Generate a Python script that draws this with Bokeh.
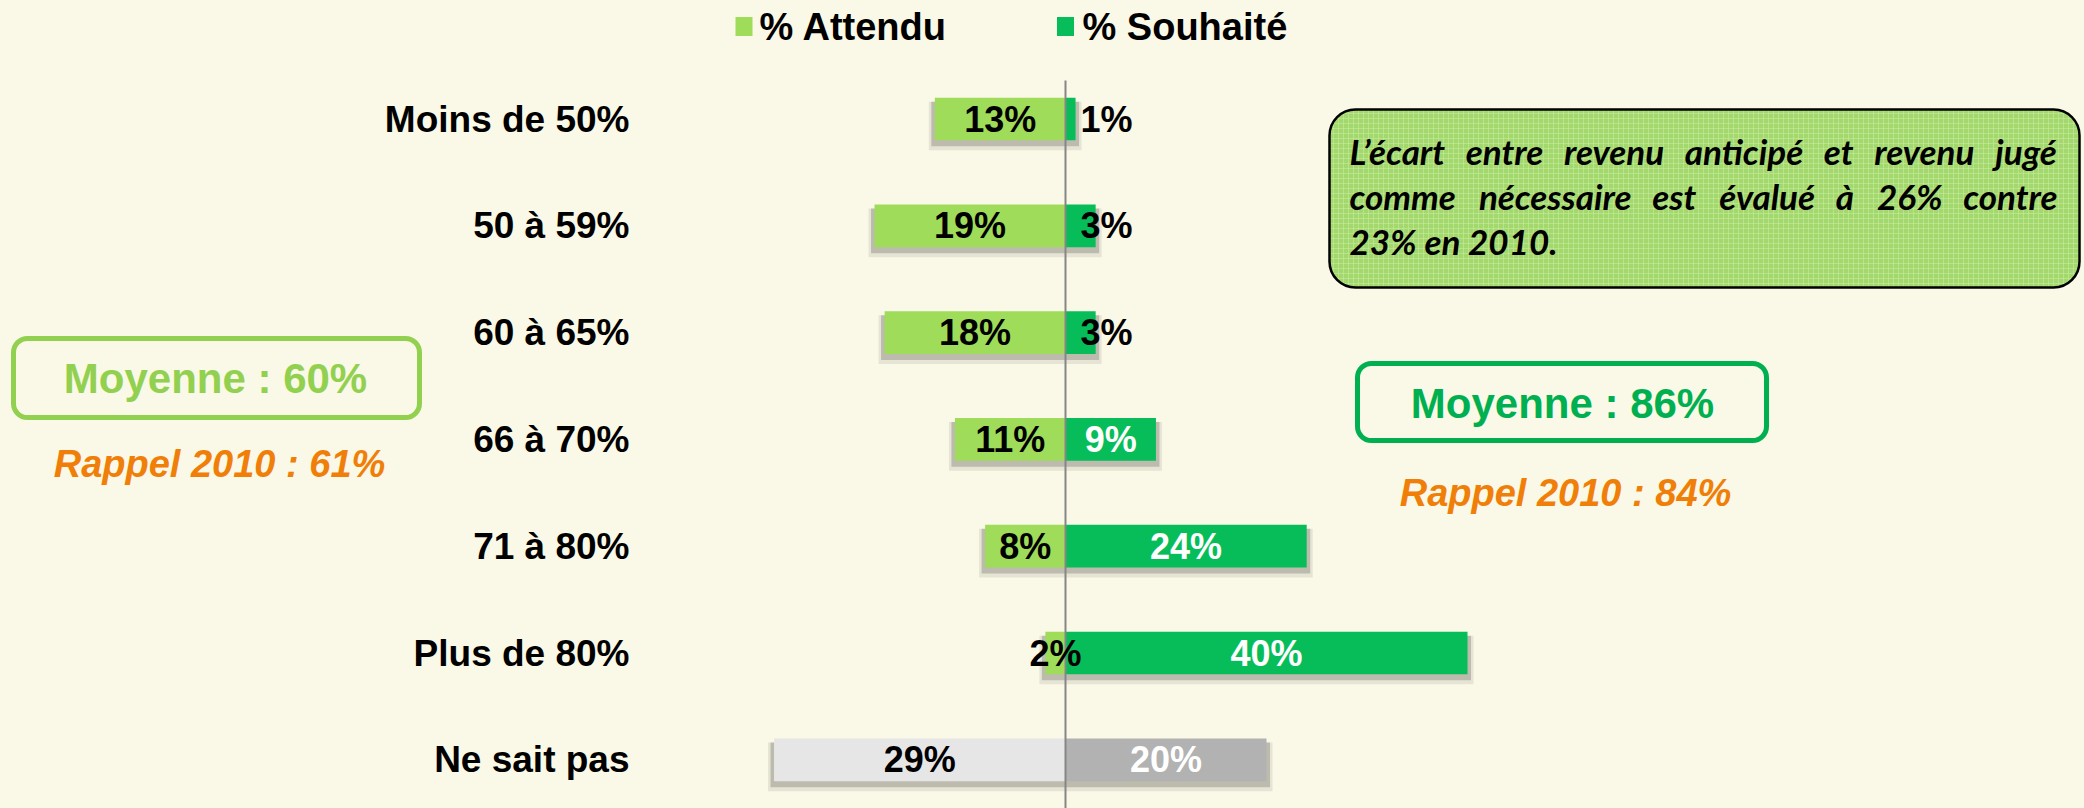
from bokeh.plotting import figure
from bokeh.models import Range1d, ColumnDataSource, BoxAnnotation
from bokeh.core.properties import value
from bokeh.embed import file_html
from bokeh.resources import INLINE

# ---------------- data ----------------
categories = ["Moins de 50%", "50 à 59%", "60 à 65%", "66 à 70%", "71 à 80%", "Plus de 80%", "Ne sait pas"]
attendu = [13, 19, 18, 11, 8, 2, 29]
souhaite = [1, 3, 3, 9, 24, 40, 20]
series_names = ["% Attendu", "% Souhaité"]
moyennes = ["Moyenne : 60%", "Moyenne : 86%"]
rappels = ["Rappel 2010 : 61%", "Rappel 2010 : 84%"]
note_lines = ["L’écart entre revenu anticipé et revenu jugé",
              "comme nécessaire est évalué à 26% contre",
              "23% en 2010."]

# ---------------- style ----------------
BG = "#FAF8E6"
C_ATT = "#9FDC5A"
C_SOU = "#07BD59"
C_ATT_NSP = "#E6E6E6"
C_SOU_NSP = "#B2B2B2"
C_MOY_L = "#92D050"
C_MOY_R = "#00B050"
C_ORANGE = "#F07F09"
FONT = value("Liberation Sans")

OFF = 0             # page offset of the plot
W, H = 2084, 808
SX = 10.05          # px per percent
SY = 106.8          # px per row
ZERO_REF = 1065
ROW0_REF = 118.5
x_start = -(ZERO_REF - OFF) / SX
x_end = x_start + W / SX
y_top = (ROW0_REF - OFF) / SY
y_bottom = y_top - H / SY


def X(rx):
    return x_start + (rx - OFF) / SX


def Y(ry):
    return y_top - (ry - OFF) / SY


def justify(line, gaps):
    # widen word gaps (justified paragraph look)
    words = line.split(" ")
    out = words[0]
    for k, w in enumerate(words[1:]):
        out += " " + gaps[k % len(gaps)] + w
    return out


n = len(categories)
ys = [-i for i in range(n)]
att_colors = [C_ATT] * (n - 1) + [C_ATT_NSP]
sou_colors = [C_SOU] * (n - 1) + [C_SOU_NSP]

src = ColumnDataSource(dict(
    y=ys, cat=categories,
    att_left=[-v for v in attendu], zero=[0] * n, sou_right=souhaite,
    att_col=att_colors, sou_col=sou_colors,
    att_lbl=[f"{v}%" for v in attendu], att_x=[-v / 2 for v in attendu],
    sh_y=[y - 5 / SY for y in ys],
    sh_left=[-v - 0.35 for v in attendu], sh_right=[v + 0.35 for v in souhaite],
    sh_y2=[y - 7 / SY for y in ys],
    sh_left2=[-v - 0.6 for v in attendu], sh_right2=[v + 0.6 for v in souhaite],
))

p = figure(width=W, height=H, x_range=Range1d(x_start, x_end), y_range=Range1d(y_bottom, y_top),
           output_backend="svg", toolbar_location=None, min_border=0)
p.axis.visible = False
p.grid.visible = False
p.outline_line_color = None
p.background_fill_color = BG
p.border_fill_color = BG

BAR_H = 0.40

# shadows
p.hbar(y="sh_y2", left="sh_left2", right="sh_right2", height=BAR_H + 6 / SY, source=src,
       fill_color="#000000", fill_alpha=0.08, line_color=None)
p.hbar(y="sh_y", left="sh_left", right="sh_right", height=BAR_H + 2 / SY, source=src,
       fill_color="#000000", fill_alpha=0.18, line_color=None)

# bars
p.hbar(y="y", left="att_left", right="zero", height=BAR_H, source=src,
       fill_color="att_col", line_color=None)
p.hbar(y="y", left="zero", right="sou_right", height=BAR_H, source=src,
       fill_color="sou_col", line_color=None)

# zero line
p.segment(x0=[0], y0=[Y(80)], x1=[0], y1=[y_bottom], line_color="#868686", line_width=2)

# category labels
p.text(x=X(629), y="y", text="cat", source=src, text_align="right", text_baseline="middle",
       text_font=FONT, text_font_style="bold", text_font_size="37px", text_color="black")

# value labels attendu
p.text(x="att_x", y="y", text="att_lbl", source=src, text_align="center", text_baseline="middle",
       text_font=FONT, text_font_style="bold", text_font_size="36px", text_color="black")

# value labels souhaite (big inside, small outside)
big = [i for i, v in enumerate(souhaite) if v >= 5]
small = [i for i, v in enumerate(souhaite) if v < 5]
p.text(x=[souhaite[i] / 2 for i in big], y=[ys[i] for i in big], text=[f"{souhaite[i]}%" for i in big],
       text_align="center", text_baseline="middle", text_font=FONT, text_font_style="bold",
       text_font_size="36px", text_color="white")
p.text(x=[X(1080)] * len(small), y=[ys[i] for i in small], text=[f"{souhaite[i]}%" for i in small],
       text_align="left", text_baseline="middle", text_font=FONT, text_font_style="bold",
       text_font_size="36px", text_color="black")

# legend
p.rect(x=[X(743.5), X(1065)], y=[Y(26), Y(26)], width=17, height=19, width_units="screen",
       height_units="screen", fill_color=[C_ATT, C_SOU], line_color=None)
p.text(x=[X(759), X(1082)], y=[Y(26), Y(26)], text=series_names, text_align="left", text_baseline="middle",
       text_font=FONT, text_font_style="bold", text_font_size="38px", text_color="black")

# note box
note = BoxAnnotation(left=X(1329), right=X(2079), top=Y(109), bottom=Y(287),
                     fill_color="#A3D96C", fill_alpha=1.0, line_color="black", line_alpha=1.0,
                     line_width=2.5, border_radius=26, hatch_pattern="+", hatch_color="#C6EAA0",
                     hatch_scale=5, hatch_weight=1, hatch_alpha=0.6, level="underlay")
p.add_layout(note)
note_text = [justify(note_lines[0], ["\u00a0\u2006"]),
             justify(note_lines[1], ["\u00a0\u00a0", "\u00a0\u2006"]),
             note_lines[2]]
p.text(x=[X(1349)] * 3, y=[Y(150), Y(195), Y(240)], text=note_text, text_align="left",
       text_baseline="middle", text_font=value("Lato"), text_font_style="bold italic",
       text_font_size="35px", text_color="black")

# moyenne boxes
box_l = BoxAnnotation(left=X(13), right=X(419), top=Y(338), bottom=Y(417), fill_alpha=0,
                      line_color=C_MOY_L, line_alpha=1.0, line_width=5, border_radius=14, level="underlay")
box_r = BoxAnnotation(left=X(1357), right=X(1766), top=Y(363), bottom=Y(440), fill_alpha=0,
                      line_color=C_MOY_R, line_alpha=1.0, line_width=5, border_radius=14, level="underlay")
p.add_layout(box_l)
p.add_layout(box_r)
p.text(x=[X(215)], y=[Y(378)], text=[moyennes[0]], text_align="center", text_baseline="middle",
       text_font=FONT, text_font_style="bold", text_font_size="42px", text_color=C_MOY_L)
p.text(x=[X(1562)], y=[Y(403)], text=[moyennes[1]], text_align="center", text_baseline="middle",
       text_font=FONT, text_font_style="bold", text_font_size="42px", text_color=C_MOY_R)
p.text(x=[X(219), X(1565)], y=[Y(463), Y(492)], text=rappels, text_align="center", text_baseline="middle",
       text_font=FONT, text_font_style="bold italic", text_font_size="38px", text_color=C_ORANGE)

html = file_html(p, INLINE)
html = html.replace("<head>", "<head><style>html,body{background:%s;}</style>" % BG, 1)
open("out.html", "w").write(html)
